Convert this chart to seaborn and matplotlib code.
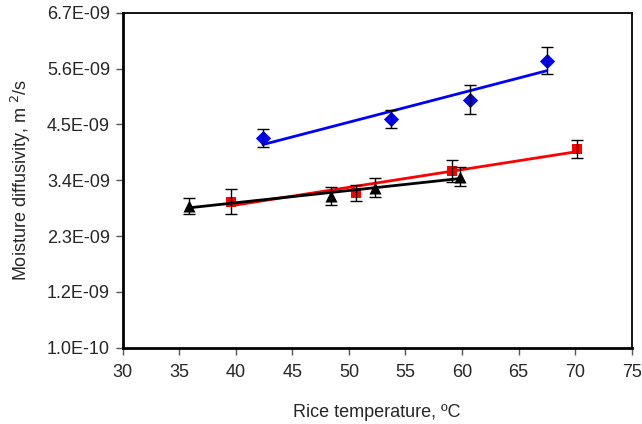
import numpy as np
import pandas as pd

import matplotlib
matplotlib.use('agg')
import matplotlib.pyplot as plt
from matplotlib.ticker import FuncFormatter
import seaborn as sns

# rice temperature (C), diffusivity (x1e-9 m2/s), error (x1e-9)
blue_t = [42.4, 53.7, 60.7, 67.5]
blue_d = [4.23, 4.61, 4.99, 5.75]
blue_e = [0.175, 0.175, 0.28, 0.265]

red_t = [39.6, 50.6, 59.1, 70.2]
red_d = [2.98, 3.15, 3.58, 4.01]
red_e = [0.24, 0.15, 0.22, 0.18]

black_t = [35.9, 48.4, 52.3, 59.8]
black_d = [2.89, 3.09, 3.25, 3.47]
black_e = [0.16, 0.18, 0.19, 0.19]

y_ticks = [0.1, 1.2, 2.3, 3.4, 4.5, 5.6, 6.7]
x_ticks = [30, 35, 40, 45, 50, 55, 60, 65, 70, 75]

series = [
    (blue_t, blue_d, blue_e, '#0000ff', 'D', 60),
    (red_t, red_d, red_e, '#ff0000', 's', 60),
    (black_t, black_d, black_e, '#000000', '^', 75),
]

sns.set_style('ticks')
plt.rcParams['font.family'] = ['Liberation Sans', 'DejaVu Sans']

fig = plt.figure(figsize=(6.42, 4.24), dpi=100)
ax = fig.add_axes([0.191, 0.18, 0.793, 0.79])

for t, d, e, col, mk, sz in series:
    df = pd.DataFrame({'t': t, 'd': np.array(d) * 1e-9, 'e': np.array(e) * 1e-9})
    sns.scatterplot(data=df, x='t', y='d', marker=mk, color=col, s=sz,
                    edgecolor=col, linewidth=0, ax=ax, zorder=3)
    # linear trendline over the data range
    k, b = np.polyfit(df['t'], df['d'], 1)
    fit = pd.DataFrame({'t': [df['t'].min(), df['t'].max()]})
    fit['d'] = k * fit['t'] + b
    sns.lineplot(data=fit, x='t', y='d', color=col, linewidth=2, ax=ax, zorder=4)
    ax.errorbar(df['t'], df['d'], yerr=df['e'], fmt='none', ecolor='black',
                elinewidth=1, capsize=4, capthick=1, zorder=5)

ax.set_xlim(30, 75)
ax.set_ylim(0.1e-9, 6.7e-9)
ax.set_xticks(x_ticks)
ax.set_yticks([v * 1e-9 for v in y_ticks])
ax.yaxis.set_major_formatter(FuncFormatter(lambda v, p: '{:.1E}'.format(v)))
ax.tick_params(labelsize=13, length=5, width=1, color='#555555')
ax.tick_params(axis='x', pad=7)
ax.tick_params(axis='y', pad=4)

for side in ['left', 'bottom']:
    ax.spines[side].set_linewidth(2)
for side in ['top', 'right']:
    ax.spines[side].set_linewidth(1.3)
for s in ax.spines.values():
    s.set_color('black')

ax.set_xlabel('Rice temperature, ºC', fontsize=13, labelpad=16)
ax.set_ylabel('Moisture diffusivity, m $^{2}$/s', fontsize=13, labelpad=10)

fig.savefig('out.png', dpi=100)
